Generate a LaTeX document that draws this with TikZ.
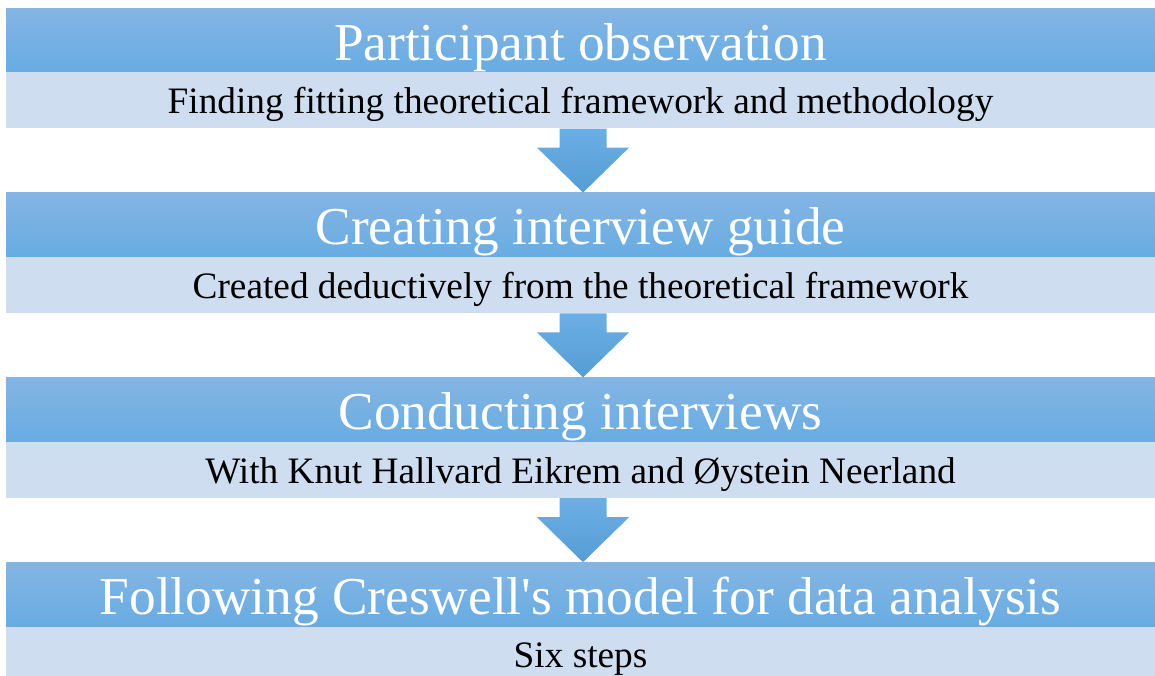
\documentclass[tikz,border=0pt]{standalone}
\usepackage{fontspec}
\setmainfont{Liberation Serif}
\usetikzlibrary{positioning,calc}
\definecolor{headtop}{HTML}{84B5E4}
\definecolor{headbot}{HTML}{68ACE2}
\definecolor{subfill}{HTML}{CEDDF0}
\definecolor{arrtop}{HTML}{6BAFE4}
\definecolor{arrbot}{HTML}{559DD4}
\tikzset{
  headbar/.style={rectangle, top color=headtop, bottom color=headbot, minimum width=1149pt, minimum height=64pt, inner sep=0pt, text=white, font=\fontsize{53.3}{60}\selectfont, text height=40pt, text depth=0pt},
  subbar/.style={rectangle, fill=subfill, minimum width=1149pt, minimum height=56pt, inner sep=0pt, font=\fontsize{37.3}{44}\selectfont, text height=26pt, text depth=0pt},
  downarrow/.style={top color=arrtop, bottom color=arrbot}
}
\begin{document}
\begin{tikzpicture}[x=1pt,y=1pt]
    \useasboundingbox (0,0) rectangle (1155,-675);
    % Step 1
    \node[headbar] (h1) at (580.5,-40) {Participant observation};
    \node[subbar, below=0pt of h1] (s1) {Finding fitting theoretical framework and methodology};
    % Step 2
    \node[headbar, below=64pt of s1] (h2) {Creating interview guide};
    \node[subbar, below=0pt of h2] (s2) {Created deductively from the theoretical framework};
    % Step 3
    \node[headbar, below=64pt of s2] (h3) {Conducting interviews};
    \node[subbar, below=0pt of h3] (s3) {With Knut Hallvard Eikrem and Øystein Neerland};
    % Step 4
    \node[headbar, below=64pt of s3] (h4) {Following Creswell\textquotesingle s model for data analysis};
    \node[subbar, below=0pt of h4] (s4) {Six steps};
    % Arrows between the steps
    \foreach \i/\j in {1/2,2/3,3/4} {
        \shade[downarrow] ($(s\i.south)+(-21,0)$) -- ($(s\i.south)+(26,0)$) -- ($(s\i.south)+(26,-19)$)
            -- ($(s\i.south)+(48.5,-19)$) -- ($(h\j.north)+(2.5,0)$) -- ($(s\i.south)+(-43.5,-19)$)
            -- ($(s\i.south)+(-21,-19)$) -- cycle;
    }
\end{tikzpicture}
\end{document}
